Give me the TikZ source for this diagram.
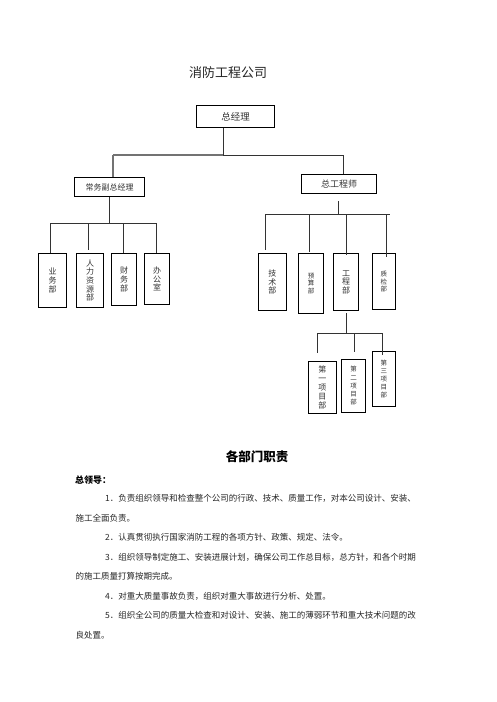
\documentclass[tikz,border=0pt]{standalone}
\usepackage{fontspec}
\setmainfont{Noto Sans CJK SC}
\begin{document}
\begin{tikzpicture}[x=1pt,y=-1pt,
  box/.style={draw=black, line width=1.1pt, inner sep=0pt, align=center, anchor=north west, text=black!80},
  vtext/.style={font=\fontsize{8}{8.6}\selectfont},
  stext/.style={font=\fontsize{6.5}{7.4}\selectfont},
  ptext/.style={font=\fontsize{6.5}{8.2}\selectfont},
  conn/.style={draw=black!80, line width=0.9pt},
  body/.style={anchor=west, inner sep=0pt, font=\fontsize{8.5}{10}\selectfont, text=black!85}]
\useasboundingbox (0,0) rectangle (496,702);
\fill[white] (0,0) rectangle (496,702);

% title
\node[font=\fontsize{13}{15}\selectfont, text=black!85] (title) at (228,73) {消防工程公司};

% boxes
\node[box, minimum width=78, minimum height=22, font=\fontsize{9.5}{11}\selectfont] (zjl) at (196,105) {总经理};
\node[box, minimum width=70, minimum height=19, font=\fontsize{8}{10}\selectfont] (cw) at (74,177) {常务副总经理};
\node[box, minimum width=75, minimum height=19, font=\fontsize{9}{11}\selectfont] (zg) at (301,174) {总工程师};

\node[box, vtext, minimum width=28, minimum height=54] (yw) at (38,253) {业\\务\\部};
\node[box, vtext, minimum width=27, minimum height=54] (rl) at (76,253) {人\\力\\资\\源\\部};
\node[box, vtext, minimum width=25, minimum height=52] (cwb) at (111,253) {财\\务\\部};
\node[box, vtext, minimum width=25, minimum height=51] (bgs) at (144,253) {办\\公\\室};

\node[box, vtext, minimum width=27.5, minimum height=57] (js) at (258,253) {技\\术\\部};
\node[box, stext, minimum width=25, minimum height=59.5] (ys) at (298,253) {预\\算\\部};
\node[box, vtext, minimum width=25, minimum height=57] (gc) at (333,253) {工\\程\\部};
\node[box, stext, minimum width=22.5, minimum height=56] (zj) at (372,253) {质\\检\\部};

\node[box, font=\fontsize{8}{9}\selectfont, minimum width=27.5, minimum height=52] (p1) at (308,361) {第\\一\\项\\目\\部};
\node[box, ptext, minimum width=24, minimum height=52.5] (p2) at (341,359) {第\\二\\项\\目\\部};
\node[box, ptext, minimum width=22.5, minimum height=55] (p3) at (372,351) {第\\三\\项\\目\\部};

% connectors: top level
\coordinate (t1) at (223,155);
\coordinate (tl) at (113,155);
\coordinate (tr) at (343,155);
\draw[conn] (zjl.south -| t1) -- (t1);
\draw[draw=black!55, line width=1.4pt] (tl) -- (t1);
\draw[conn] (t1) -- (tr);
\draw[draw=black!55, line width=1.4pt] (tl) -- (cw.north -| tl);
\draw[conn] (tr) -- (zg.north -| tr);

% left branch
\coordinate (c1) at (109.5,223);
\coordinate (cl) at (50.7,223);
\coordinate (cr) at (156,223);
\coordinate (rlb) at (88.3,223);
\coordinate (rlt) at (88.3,250);
\coordinate (cwt) at (123.7,223);
\draw[conn] (cw.south -| c1) -- (c1);
\draw[conn] (cl) -- (cr);
\draw[conn] (cl) -- (yw.north -| cl);
\draw[conn] (rlb) -- (rlt);
\draw[conn] (cwt) -- (cwb.north -| cwt);
\draw[conn] (cr) -- (bgs.north -| cr);

% right branch
\coordinate (g0) at (338,201);
\coordinate (g1) at (338,214);
\coordinate (gl) at (265,214);
\coordinate (gr) at (390,214);
\coordinate (jst) at (265,250);
\coordinate (ysb) at (309,214);
\coordinate (yst) at (309,251.5);
\coordinate (gcb) at (346.3,214);
\coordinate (gct) at (346.3,255);
\coordinate (zjb) at (386.7,214);
\coordinate (zjt) at (386.7,257);
\draw[conn] (g0) -- (g1);
\draw[conn] (gl) -- (gr);
\draw[conn] (gl) -- (jst);
\draw[conn] (ysb) -- (yst);
\draw[conn] (gcb) -- (gct);
\draw[conn] (zjb) -- (zjt);

% project branch
\coordinate (pm0) at (346,313);
\coordinate (pm) at (346,333);
\coordinate (pl) at (317.3,333);
\coordinate (pr) at (382.7,333);
\coordinate (p1t) at (317.3,353);
\coordinate (p2b) at (354,333);
\coordinate (p2t) at (354,352);
\coordinate (p3t) at (382.7,355);
\draw[conn] (pm0) -- (pm);
\draw[conn] (pl) -- (pr);
\draw[conn] (pl) -- (p1t);
\draw[conn] (p2b) -- (p2t);
\draw[conn] (pr) -- (p3t);

% text section
\node[font=\fontsize{12.5}{14}\selectfont\bfseries] (h1) at (257,457) {各部门职责};
\node[anchor=west, inner sep=0pt, font=\fontsize{9}{11}\selectfont\bfseries] (h2) at (75,480) {总领导：};
\node[body] (l1) at (105,498.5) {1．负责组织领导和检查整个公司的行政、技术、质量工作，对本公司设计、安装、};
\node[body] (l1b) at (75.5,518) {施工全面负责。};
\node[body] (l2) at (105,537.5) {2．认真贯彻执行国家消防工程的各项方针、政策、规定、法令。};
\node[body] (l3) at (105,557) {3．组织领导制定施工、安装进展计划，确保公司工作总目标，总方针，和各个时期};
\node[body] (l3b) at (75.5,576) {的施工质量打算按期完成。};
\node[body] (l4) at (105,596.5) {4．对重大质量事故负责，组织对重大事故进行分析、处置。};
\node[body] (l5) at (105,615.5) {5．组织全公司的质量大检查和对设计、安装、施工的薄弱环节和重大技术问题的改};
\node[body] (l5b) at (75.5,635.5) {良处置。};
\end{tikzpicture}
\end{document}
